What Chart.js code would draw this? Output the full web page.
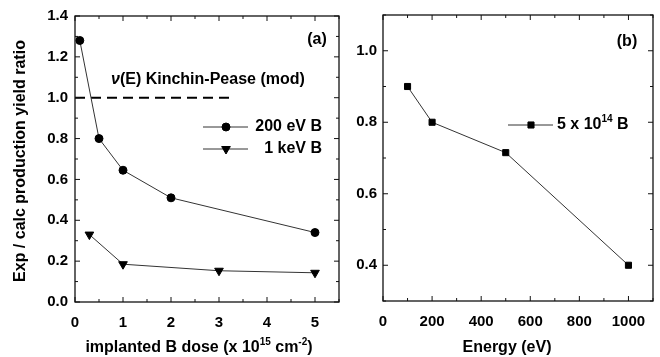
<!DOCTYPE html>
<html>
<head>
<meta charset="utf-8">
<script src="https://cdn.jsdelivr.net/npm/chart.js@4/dist/chart.umd.min.js"></script>
<style>
  body { margin: 0; background: #fff; width: 660px; height: 357px; overflow: hidden; position: relative; }
  canvas { position: absolute; top: 0; }
  #chartDose { left: 0; }
  #chartEnergy { left: 345px; }
</style>
</head>
<body>
<canvas id="chartDose" width="345" height="357"></canvas>
<canvas id="chartEnergy" width="315" height="357"></canvas>
<script>
// panel (a)
const doseTicks = [0, 1, 2, 3, 4, 5];
const ratioTicksA = [0, 0.2, 0.4, 0.6, 0.8, 1.0, 1.2, 1.4];
const dose200eV = [0.1, 0.5, 1, 2, 5];
const ratio200eV = [1.28, 0.80, 0.645, 0.51, 0.34];
const dose1keV = [0.3, 1, 3, 5];
const ratio1keV = [0.33, 0.185, 0.153, 0.143];
const kpDose = [0, 3.27];
const kpRatio = [1.0, 1.0];
// panel (b)
const energyTicks = [0, 200, 400, 600, 800, 1000];
const ratioTicksB = [0.4, 0.6, 0.8, 1.0];
const energy = [100, 200, 500, 1000];
const ratioEnergy = [0.9, 0.8, 0.715, 0.4];

const FONT = '"Liberation Sans", Arial, sans-serif';
const pts = (xs, ys) => xs.map((v, i) => ({ x: v, y: ys[i] }));
const useTicks = list => scale => { scale.ticks = list.map(v => ({ value: v })); };

function marker(ctx, style, r, rot, x, y) {
  ctx.fillStyle = '#000';
  ctx.strokeStyle = '#000';
  if (Chart.helpers && Chart.helpers.drawPoint) {
    Chart.helpers.drawPoint(ctx, { pointStyle: style, radius: r, rotation: rot, borderWidth: 1 }, x, y);
  }
}

// text made of pieces, some raised and smaller (superscripts)
function pieces(ctx, parts, x, y, align) {
  let total = 0;
  parts.forEach(p => { ctx.font = 'bold ' + p[1] + 'px ' + FONT; total += ctx.measureText(p[0]).width; });
  let x0 = align === 'center' ? x - total / 2 : x;
  ctx.textAlign = 'left';
  parts.forEach(p => {
    ctx.font = 'bold ' + p[1] + 'px ' + FONT;
    ctx.fillText(p[0], x0, y + p[2]);
    x0 += ctx.measureText(p[0]).width;
  });
}

// box round the plot with inward ticks on all four sides
const frameTicks = {
  id: 'frameTicks',
  afterDatasetsDraw(chart, args, opts) {
    const { ctx, chartArea: a, scales: { x, y } } = chart;
    ctx.save();
    ctx.strokeStyle = '#111';
    ctx.lineWidth = 1.3;
    ctx.strokeRect(a.left, a.top, a.right - a.left, a.bottom - a.top);
    ctx.lineWidth = 1;
    ctx.beginPath();
    for (let v = x.min; v <= x.max + 1e-9; v += opts.xMinor) {
      const px = x.getPixelForValue(v);
      const major = x.ticks.some(t => Math.abs(t.value - v) < 1e-9);
      const len = major ? 5 : 3;
      ctx.moveTo(px, a.bottom); ctx.lineTo(px, a.bottom - len);
      ctx.moveTo(px, a.top); ctx.lineTo(px, a.top + len);
    }
    for (let v = y.min; v <= y.max + 1e-9; v += opts.yMinor) {
      const py = y.getPixelForValue(v);
      const major = y.ticks.some(t => Math.abs(t.value - v) < 1e-9);
      const len = major ? 5 : 3;
      ctx.moveTo(a.left, py); ctx.lineTo(a.left + len, py);
      ctx.moveTo(a.right, py); ctx.lineTo(a.right - len, py);
    }
    ctx.stroke();
    ctx.restore();
  }
};

const tickFont = { family: FONT, size: 15, weight: 'bold' };

// ---------- panel (a)
const notesDose = {
  id: 'notesDose',
  afterDraw(chart) {
    const ctx = chart.ctx;
    ctx.save();
    ctx.fillStyle = '#000';
    ctx.textBaseline = 'middle';
    // Kinchin-Pease label
    ctx.font = 'italic bold 16px ' + FONT;
    ctx.textAlign = 'left';
    ctx.fillText('\u03bd', 111, 80);
    let w = ctx.measureText('\u03bd').width;
    ctx.font = 'bold 16px ' + FONT;
    ctx.fillText('(E) Kinchin-Pease (mod)', 111 + w, 80);
    ctx.textAlign = 'center';
    ctx.fillText('(a)', 317, 40);
    // legend
    const rows = [
      { y: 127, text: '200 eV B', style: 'circle', r: 4, rot: 0 },
      { y: 149, text: '1 keV B', style: 'triangle', r: 5, rot: 180 }
    ];
    rows.forEach(row => {
      ctx.strokeStyle = '#333';
      ctx.lineWidth = 1;
      ctx.beginPath();
      ctx.moveTo(203, row.y); ctx.lineTo(248, row.y);
      ctx.stroke();
      marker(ctx, row.style, row.r, row.rot, 226, row.y);
      ctx.fillStyle = '#000';
      ctx.textAlign = 'right';
      ctx.font = 'bold 16px ' + FONT;
      ctx.fillText(row.text, 322, row.y);
    });
    // y title
    ctx.save();
    ctx.translate(21, 161);
    ctx.rotate(-Math.PI / 2);
    ctx.textAlign = 'center';
    ctx.font = 'bold 16px ' + FONT;
    ctx.fillText('Exp / calc production yield ratio', 0, 0);
    ctx.restore();
    // x title with superscripts
    pieces(ctx, [
      ['implanted B dose (x 10', 16, 0],
      ['15', 10, -6],
      [' cm', 16, 0],
      ['-2', 10, -6],
      [')', 16, 0]
    ], 199, 348, 'center');
    ctx.restore();
  }
};

new Chart(document.getElementById('chartDose'), {
  type: 'scatter',
  data: {
    datasets: [
      {
        label: '200 eV B',
        data: pts(dose200eV, ratio200eV),
        showLine: true,
        borderColor: '#333',
        borderWidth: 1,
        pointStyle: 'circle',
        pointRadius: 4,
        pointBackgroundColor: '#000',
        pointBorderColor: '#000'
      },
      {
        label: '1 keV B',
        data: pts(dose1keV, ratio1keV),
        showLine: true,
        borderColor: '#333',
        borderWidth: 1,
        pointStyle: 'triangle',
        pointRotation: 180,
        pointRadius: 5,
        pointBackgroundColor: '#000',
        pointBorderColor: '#000'
      },
      {
        label: 'Kinchin-Pease (mod)',
        data: pts(kpDose, kpRatio),
        showLine: true,
        borderColor: '#000',
        borderWidth: 2,
        borderDash: [10, 6],
        pointRadius: 0
      }
    ]
  },
  options: {
    responsive: false,
    devicePixelRatio: 1,
    animation: false,
    layout: { padding: { top: 16, right: 2, left: 0, bottom: 0 } },
    plugins: {
      legend: { display: false },
      tooltip: { enabled: false },
      frameTicks: { xMinor: 0.5, yMinor: 0.1 }
    },
    scales: {
      x: {
        type: 'linear', min: 0, max: 5.5,
        afterBuildTicks: useTicks(doseTicks),
        afterFit: s => { s.height = 55; },
        grid: { display: false, drawTicks: false },
        border: { display: false },
        ticks: { color: '#000', font: tickFont, padding: 12, maxRotation: 0, callback: v => String(v) }
      },
      y: {
        type: 'linear', min: 0, max: 1.4,
        afterBuildTicks: useTicks(ratioTicksA),
        afterFit: s => { s.width = 75; },
        grid: { display: false, drawTicks: false },
        border: { display: false },
        ticks: { color: '#000', font: tickFont, padding: 7, callback: v => v.toFixed(1) }
      }
    }
  },
  plugins: [frameTicks, notesDose]
});

// ---------- panel (b)
const notesEnergy = {
  id: 'notesEnergy',
  afterDraw(chart) {
    const ctx = chart.ctx;
    ctx.save();
    ctx.fillStyle = '#000';
    ctx.textBaseline = 'middle';
    ctx.font = 'bold 16px ' + FONT;
    ctx.textAlign = 'center';
    ctx.fillText('(b)', 282, 42);
    ctx.fillText('Energy (eV)', 162, 348);
    // legend
    const ly = 125;
    ctx.strokeStyle = '#333';
    ctx.lineWidth = 1;
    ctx.beginPath();
    ctx.moveTo(163, ly); ctx.lineTo(208, ly);
    ctx.stroke();
    marker(ctx, 'rect', 4.3, 0, 186, ly);
    ctx.fillStyle = '#000';
    pieces(ctx, [['5 x 10', 16, 0], ['14', 10, -6], [' B', 16, 0]], 212, ly, 'left');
    ctx.restore();
  }
};

new Chart(document.getElementById('chartEnergy'), {
  type: 'scatter',
  data: {
    datasets: [{
      label: '5 x 10^14 B',
      data: pts(energy, ratioEnergy),
      showLine: true,
      borderColor: '#333',
      borderWidth: 1,
      pointStyle: 'rect',
      pointRadius: 4.3,
      pointBackgroundColor: '#000',
      pointBorderColor: '#000'
    }]
  },
  options: {
    responsive: false,
    devicePixelRatio: 1,
    animation: false,
    layout: { padding: { top: 15, right: 7, left: 0, bottom: 0 } },
    plugins: {
      legend: { display: false },
      tooltip: { enabled: false },
      frameTicks: { xMinor: 100, yMinor: 0.1 }
    },
    scales: {
      x: {
        type: 'linear', min: 0, max: 1100,
        afterBuildTicks: useTicks(energyTicks),
        afterFit: s => { s.height = 56; },
        grid: { display: false, drawTicks: false },
        border: { display: false },
        ticks: { color: '#000', font: tickFont, padding: 12, maxRotation: 0, callback: v => String(v) }
      },
      y: {
        type: 'linear', min: 0.3, max: 1.1,
        afterBuildTicks: useTicks(ratioTicksB),
        afterFit: s => { s.width = 38; },
        grid: { display: false, drawTicks: false },
        border: { display: false },
        ticks: { color: '#000', font: tickFont, padding: 6, callback: v => v.toFixed(1) }
      }
    }
  },
  plugins: [frameTicks, notesEnergy]
});
</script>
</body>
</html>
